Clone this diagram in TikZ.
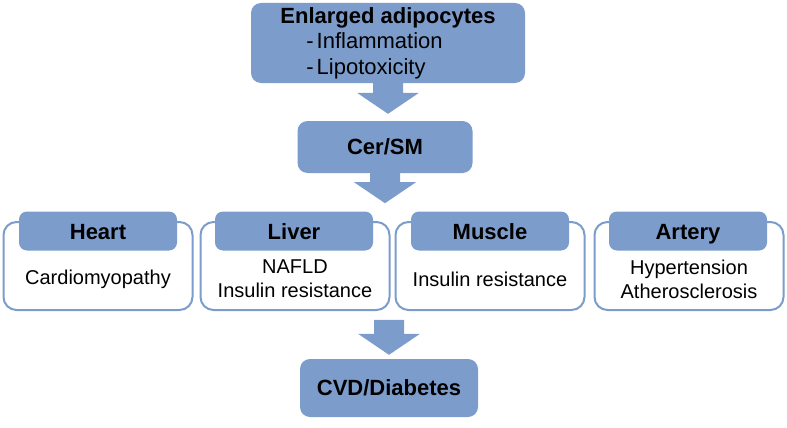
\documentclass[tikz,border=0pt]{standalone}
\usepackage{fontspec}
\setmainfont{Liberation Sans}
\usepackage{tikz}
\usetikzlibrary{calc}
\definecolor{boxblue}{RGB}{124,156,203}
\tikzset{bluebox/.style={fill=boxblue,rounded corners=10pt,inner sep=0pt,
  font=\fontsize{22}{26}\selectfont\bfseries},
 organbox/.style={draw=boxblue,line width=2pt,fill=white,rounded corners=13pt,
  minimum width=189pt,minimum height=88pt},
 organhead/.style={fill=boxblue,rounded corners=8pt,inner sep=0pt,
  text height=18pt,text depth=2pt,
  minimum width=158pt,minimum height=39pt,font=\fontsize{22}{26}\selectfont\bfseries},
 organtext/.style={inner sep=0pt,align=center,font=\fontsize{20}{24}\selectfont},
 }
\newcommand{\fatarrow}[2]{%
  \fill[boxblue] ($(#1)+(-15,0)$) |- ($(#2)+(-31,-21)$) -- (#2)
    -- ($(#2)+(31,-21)$) -| ($(#1)+(15,0)$) -- cycle;}

\begin{document}
\begin{tikzpicture}[x=1pt,y=-1pt]
        \useasboundingbox (0,0) rectangle (787,428);
        \node[bluebox,minimum width=274pt,minimum height=80pt,align=left,
          font=\fontsize{22}{25.5}\selectfont] (adipo) at (388,43)
          {{\bfseries Enlarged adipocytes}\\
           \hspace*{26pt}-\hspace{3pt}Inflammation\\
           \hspace*{26pt}-\hspace{3pt}Lipotoxicity};
        \node[bluebox,minimum width=175pt,minimum height=52pt] (cer) at (385,147) {Cer/SM};
        \node[organbox] (heartbox) at (98,266) {};
        \node[organhead] (heart) at (98,231) {Heart};
        \node[organtext] (heartdis) at (98,279) {Cardiomyopathy};
        \node[organbox] (liverbox) at (295,266) {};
        \node[organhead] (liver) at (294,231) {Liver};
        \node[organtext] (liverdis) at (295,279) {NAFLD\\Insulin resistance};
        \node[organbox] (musclebox) at (490,266) {};
        \node[organhead] (muscle) at (490,231) {Muscle};
        \node[organtext] (muscledis) at (490,279) {Insulin resistance};
        \node[organbox] (arterybox) at (689,266) {};
        \node[organhead] (artery) at (688,231) {Artery};
        \node[organtext] (arterydis) at (689,279) {Hypertension\\Atherosclerosis};
        \node[bluebox,minimum width=178pt,minimum height=58pt] (cvd) at (389,388) {CVD/Diabetes};
        \coordinate (arrowa) at (adipo.south);
        \coordinate (tipa) at ($(adipo.south |- cer.north)+(0,-7)$);
        \coordinate (arrowb) at (cer.south);
        \coordinate (tipb) at ($(cer.south)+(0,30)$);
        \coordinate (arrowc) at ($(cvd.north)+(0,-39)$);
        \coordinate (tipc) at ($(cvd.north)+(0,-4)$);
        \fatarrow{arrowa}{tipa}
        \fatarrow{arrowb}{tipb}
        \fatarrow{arrowc}{tipc}
    \end{tikzpicture}
\end{document}
